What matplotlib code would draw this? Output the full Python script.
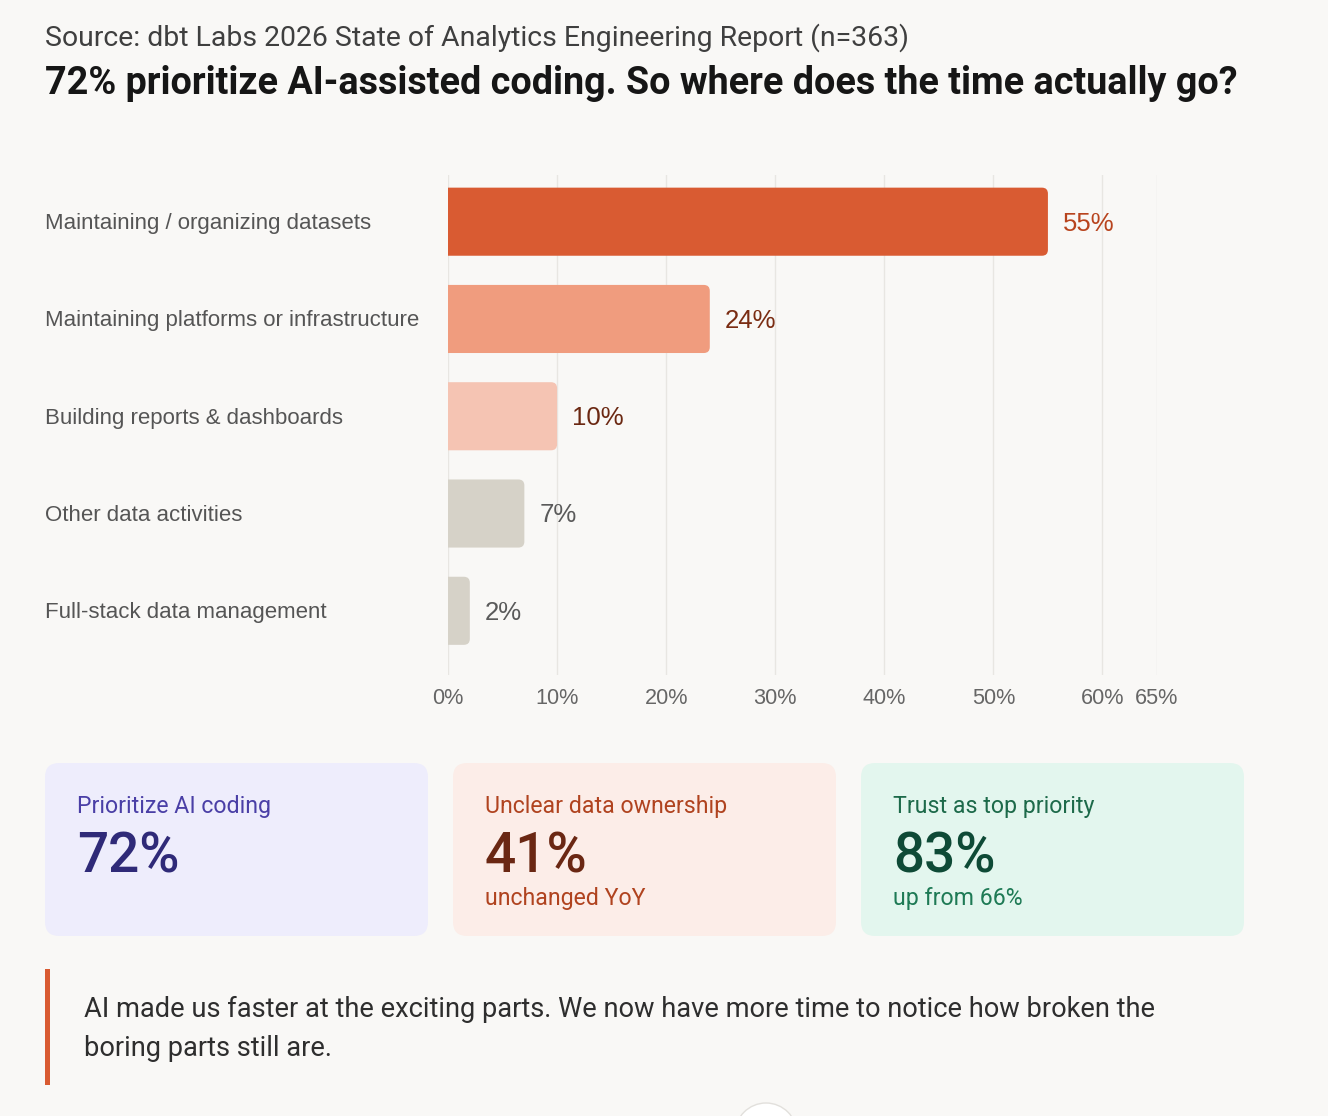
import matplotlib
matplotlib.use("Agg")
import matplotlib.pyplot as plt
import matplotlib.transforms as mtransforms
from matplotlib.patches import FancyBboxPatch, Rectangle, Ellipse

# ---- data ----
categories = ["Maintaining / organizing datasets",
              "Maintaining platforms or infrastructure",
              "Building reports & dashboards",
              "Other data activities",
              "Full-stack data management"]
values = [55, 24, 10, 7, 2]
bar_colors = ["#D95B32", "#F09C7E", "#F5C4B3", "#D6D2C8", "#D6D2C8"]
label_colors = ["#B8441E", "#7A2C12", "#6B2812", "#5A5A5A", "#5A5A5A"]
xticks = [0, 10, 20, 30, 40, 50, 60, 65]
xtick_labels = [f"{t}%" for t in xticks]

source_text = "Source: dbt Labs 2026 State of Analytics Engineering Report (n=363)"
title_text = "72% prioritize AI-assisted coding. So where does the time actually go?"

card_titles = ["Prioritize AI coding", "Unclear data ownership", "Trust as top priority"]
card_values = ["72%", "41%", "83%"]
card_subs = ["", "unchanged YoY", "up from 66%"]
card_bg = ["#EEEDFC", "#FCEDE8", "#E3F6EE"]
card_title_col = ["#4A3FA6", "#B0431F", "#1D6A4A"]
card_value_col = ["#2F2A78", "#6A2713", "#0E4A36"]
card_sub_col = ["#4A3FA6", "#B0431F", "#1E7A55"]

quote_lines = ["AI made us faster at the exciting parts. We now have more time to notice how broken the",
               "boring parts still are."]

W, H = 1328, 1116
BG = "#F9F8F6"
fig = plt.figure(figsize=(W / 100, H / 100), dpi=100, facecolor=BG)

def fx(x):
    return x / W

def fy(y):
    return 1 - y / H

HEAD = ["Roboto", "DejaVu Sans"]
BODY = ["Liberation Sans", "DejaVu Sans"]

fig.text(fx(45), fy(38), source_text, fontsize=20.4, color="#3F3F3F",
         family=HEAD, va="center", ha="left")
fig.text(fx(45), fy(84), title_text, fontsize=27.2, color="#161616",
         family=HEAD, weight="bold", va="center", ha="left")

# ---- bar chart ----
ax_l, ax_r, ax_t, ax_b = 448, 1157, 175, 675
ax = fig.add_axes([fx(ax_l), fy(ax_b), fx(ax_r) - fx(ax_l), (ax_b - ax_t) / H])
ax.set_facecolor("none")
ax.set_xlim(0, 65)
ax.set_ylim(4.66, -0.48)
for s in ax.spines.values():
    s.set_visible(False)
ax.set_xticks(xticks)
ax.set_xticklabels(xtick_labels, family=BODY, fontsize=15.6, color="#666666")
ax.tick_params(axis="x", length=0, pad=9)
ax.set_yticks([])
ax.grid(axis="x", color="#E8E6E2", linewidth=1)
ax.set_axisbelow(True)

px_per_x = (ax_r - ax_l) / 65.0
px_per_y = (ax_b - ax_t) / (4.66 + 0.48)
bar_h = 0.70
radius_px = 6
rx = radius_px / px_per_x
aspect = px_per_x / px_per_y

lbl_tr = mtransforms.blended_transform_factory(fig.transFigure, ax.transData)
bars = ax.barh(range(len(values)), values, height=bar_h, color=bar_colors, alpha=0)
for i, (b, v) in enumerate(zip(bars, values)):
    x0, y0 = b.get_x(), b.get_y()
    w, h = b.get_width(), b.get_height()
    # rounded right end; left end extends past the axis edge and is clipped square
    p = FancyBboxPatch((x0 - 3 * rx, y0), w + 3 * rx, h,
                       boxstyle=f"round,pad=0,rounding_size={rx}",
                       mutation_aspect=aspect, facecolor=bar_colors[i],
                       edgecolor="none", zorder=2)
    ax.add_patch(p)
    ax.text(v + 1.4, i + 0.02, f"{v}%", va="center", ha="left", family=BODY,
            fontsize=18.5, color=label_colors[i])
    fig.text(fx(45), i + 0.02, categories[i], fontsize=16, color="#555555", family=BODY,
             va="center", ha="left", transform=lbl_tr)

# ---- cards ----
card_x = [45, 453, 861]
card_w = 383
card_top, card_bot = 763, 936
for i in range(3):
    x0 = card_x[i]
    p = FancyBboxPatch((fx(x0), fy(card_bot)), card_w / W, (card_bot - card_top) / H,
                       boxstyle=f"round,pad=0,rounding_size={14 / W}",
                       mutation_aspect=W / H, transform=fig.transFigure,
                       facecolor=card_bg[i], edgecolor="none")
    fig.patches.append(p)
    fig.text(fx(x0 + 32), fy(807), card_titles[i], fontsize=16.7, color=card_title_col[i],
             family=HEAD, va="center", ha="left")
    fig.text(fx(x0 + 32), fy(857), card_values[i], fontsize=39.5, color=card_value_col[i],
             family=HEAD, weight="medium", va="center", ha="left")
    if card_subs[i]:
        fig.text(fx(x0 + 32), fy(899), card_subs[i], fontsize=16.7, color=card_sub_col[i],
                 family=HEAD, va="center", ha="left")

# ---- quote ----
fig.patches.append(Rectangle((fx(45), fy(1085)), 5 / W, (1085 - 969) / H,
                             transform=fig.transFigure, facecolor="#D95B32", edgecolor="none"))
for j, line in enumerate(quote_lines):
    fig.text(fx(84), fy(1009 + j * 39), line, fontsize=19.6, color="#2E2E2E",
             family=HEAD, va="center", ha="left")

# small circle peeking at bottom
fig.patches.append(Ellipse((fx(766), fy(1134)), 62 / W, 62 / H, transform=fig.transFigure,
                           facecolor="#FFFFFF", edgecolor="#E2E0DC", linewidth=1))

fig.savefig("out.png", dpi=100, facecolor=BG)
